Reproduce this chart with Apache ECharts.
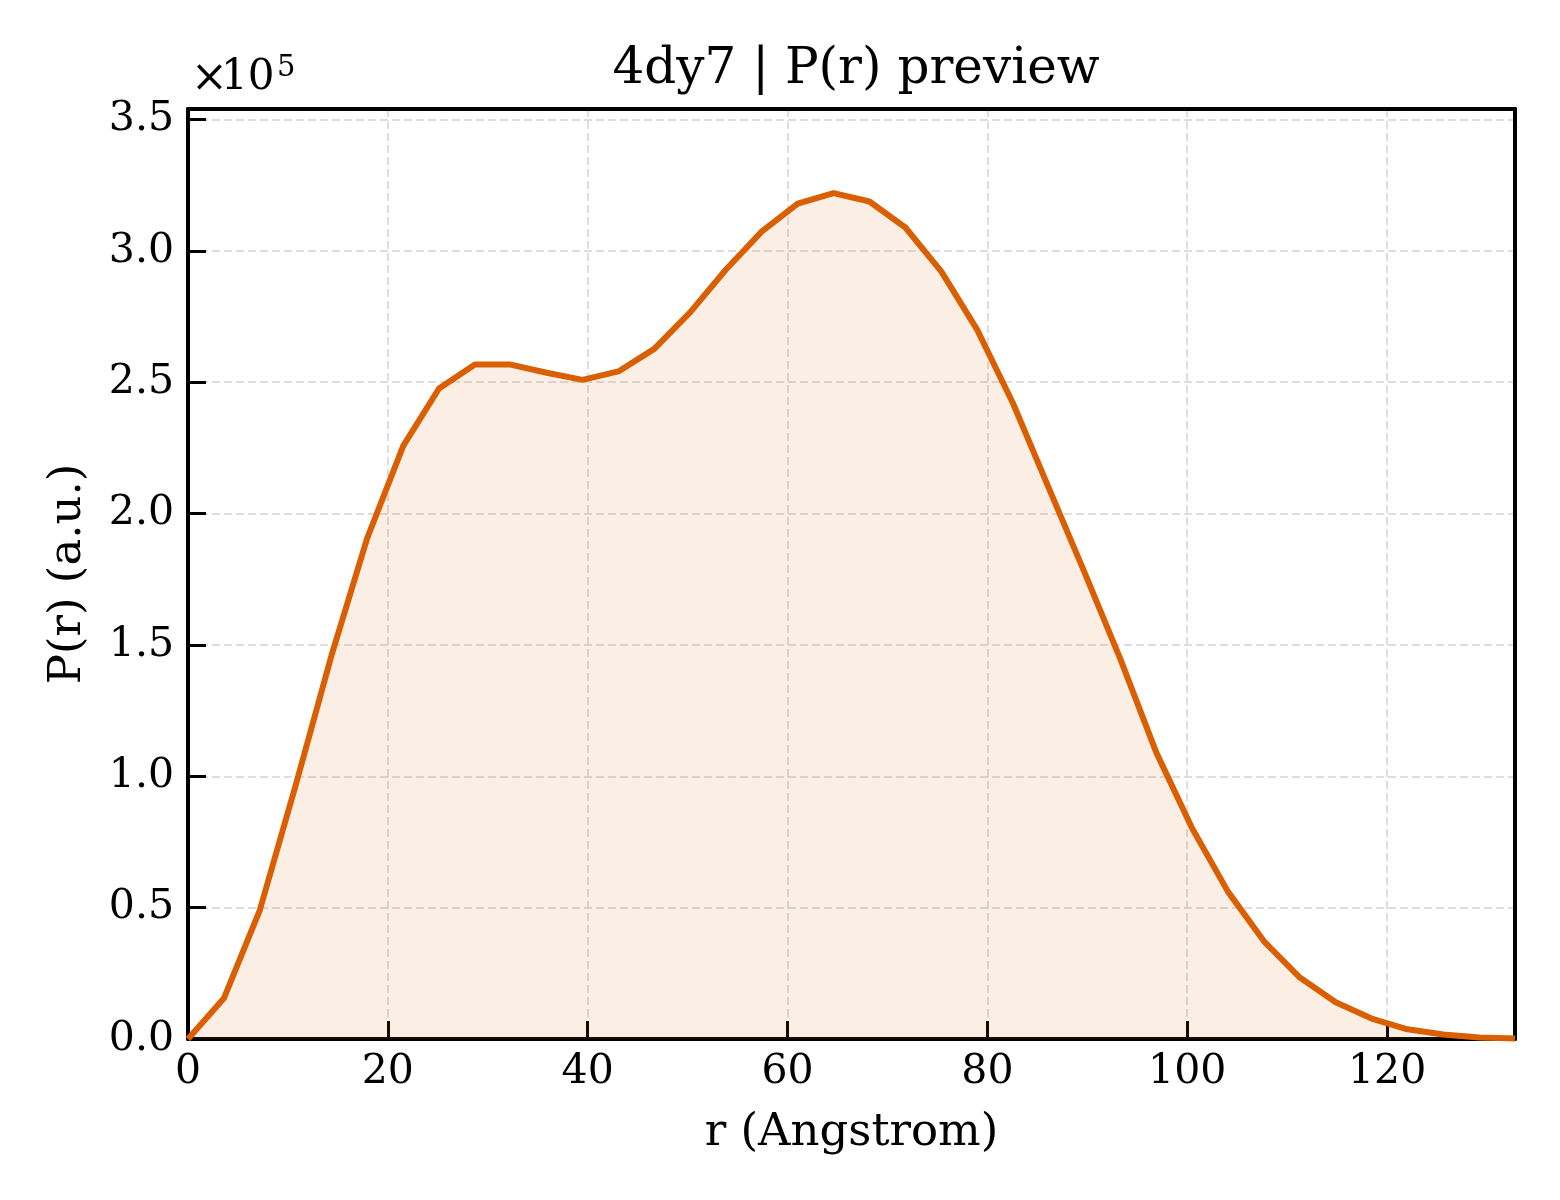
<!DOCTYPE html>
<html>
<head>
<meta charset="utf-8">
<title>4dy7 | P(r) preview</title>
<script src="https://cdn.jsdelivr.net/npm/echarts@6/dist/echarts.min.js"></script>
<style>
  html, body { margin: 0; padding: 0; background: #fff; }
  #chart { width: 1560px; height: 1200px; }
</style>
</head>
<body>
<div id="chart"></div>
<script>
// r in Angstrom, P(r) in units of 1e5
const r = [
  0.0, 3.59, 7.18, 10.77, 14.36, 17.95, 21.54, 25.12, 28.71, 32.30,
  35.89, 39.48, 43.07, 46.66, 50.25, 53.84, 57.43, 61.02, 64.61, 68.20,
  71.79, 75.38, 78.97, 82.56, 86.14, 89.73, 93.32, 96.91, 100.50, 104.09,
  107.68, 111.27, 114.86, 118.45, 122.04, 125.63, 129.22, 132.80
];
const pr = [
  0.0, 0.155, 0.49, 0.965, 1.46, 1.908, 2.258, 2.476, 2.567, 2.567,
  2.536, 2.509, 2.541, 2.627, 2.766, 2.929, 3.074, 3.18, 3.22, 3.188,
  3.089, 2.922, 2.70, 2.42, 2.098, 1.775, 1.445, 1.09, 0.801, 0.56,
  0.372, 0.234, 0.14, 0.078, 0.037, 0.017, 0.006, 0.002
];
const xTicks = { min: 0, max: 132.8, step: 20 };
const yTicks = { min: 0, max: 3.54, step: 0.5 };

const font = 'DejaVu Serif';
const lineColor = '#d95f02';

const chart = echarts.init(document.getElementById('chart'), null, { renderer: 'canvas' });

const gridLine = {
  show: true,
  lineStyle: { color: '#d4d4d4', width: 1.5, type: [8, 4] }
};
const spine = { show: true, onZero: false, lineStyle: { color: '#000', width: 4 } };
const tick = { show: true, inside: true, length: 18, lineStyle: { color: '#000', width: 3 } };
const tickFont = { fontFamily: font, fontSize: 41, color: '#000' };

const option = {
  animation: false,
  backgroundColor: '#fff',
  title: {
    text: '4dy7 | P(r) preview',
    left: 851,
    top: 40,
    textAlign: 'center',
    textStyle: { fontFamily: font, fontSize: 50, fontWeight: 'normal', color: '#000' }
  },
  grid: {
    left: 188, right: 45, top: 109, bottom: 161,
    containLabel: false
  },
  xAxis: [
    {
      type: 'value',
      min: xTicks.min,
      max: xTicks.max,
      interval: xTicks.step,
      name: 'r (Angstrom)',
      nameLocation: 'middle',
      nameGap: 72,
      nameTextStyle: { fontFamily: font, fontSize: 45, color: '#000' },
      axisLine: spine,
      axisTick: tick,
      axisLabel: Object.assign({ margin: 13, showMaxLabel: false, formatter: (v) => String(v) }, tickFont),
      splitLine: gridLine
    },
    {
      type: 'value', position: 'top',
      min: xTicks.min, max: xTicks.max, interval: xTicks.step,
      axisLine: spine, axisTick: { show: false }, axisLabel: { show: false }, splitLine: { show: false }
    }
  ],
  yAxis: [
    {
      type: 'value',
      min: yTicks.min,
      max: yTicks.max,
      interval: yTicks.step,
      name: 'P(r) (a.u.)',
      nameLocation: 'middle',
      nameGap: 97,
      nameRotate: 90,
      nameTextStyle: { fontFamily: font, fontSize: 45, color: '#000' },
      axisLine: spine,
      axisTick: tick,
      axisLabel: Object.assign({ margin: 14, showMaxLabel: false, formatter: (v) => v.toFixed(1) }, tickFont),
      splitLine: gridLine
    },
    {
      type: 'value', position: 'right',
      min: yTicks.min, max: yTicks.max, interval: yTicks.step,
      axisLine: spine, axisTick: { show: false }, axisLabel: { show: false }, splitLine: { show: false }
    }
  ],
  graphic: [
    {
      type: 'text',
      x: 191, y: 80,
      style: { text: '×', fontFamily: font, fontSize: 44, fill: '#000', verticalAlign: 'middle' }
    },
    {
      type: 'text',
      x: 221, y: 78,
      style: { text: '10', fontFamily: font, fontSize: 42, fill: '#000', verticalAlign: 'middle' }
    },
    {
      type: 'text',
      x: 277, y: 68,
      style: { text: '5', fontFamily: font, fontSize: 29, fill: '#000', verticalAlign: 'middle' }
    }
  ],
  series: [
    {
      type: 'line',
      data: r.map((x, i) => [x, pr[i]]),
      showSymbol: false,
      symbol: 'none',
      smooth: false,
      lineStyle: { color: lineColor, width: 6, join: 'round' },
      areaStyle: { color: 'rgba(217, 95, 2, 0.15)', origin: 'start' },
      z: 3
    }
  ]
};

chart.setOption(option);
</script>
</body>
</html>
